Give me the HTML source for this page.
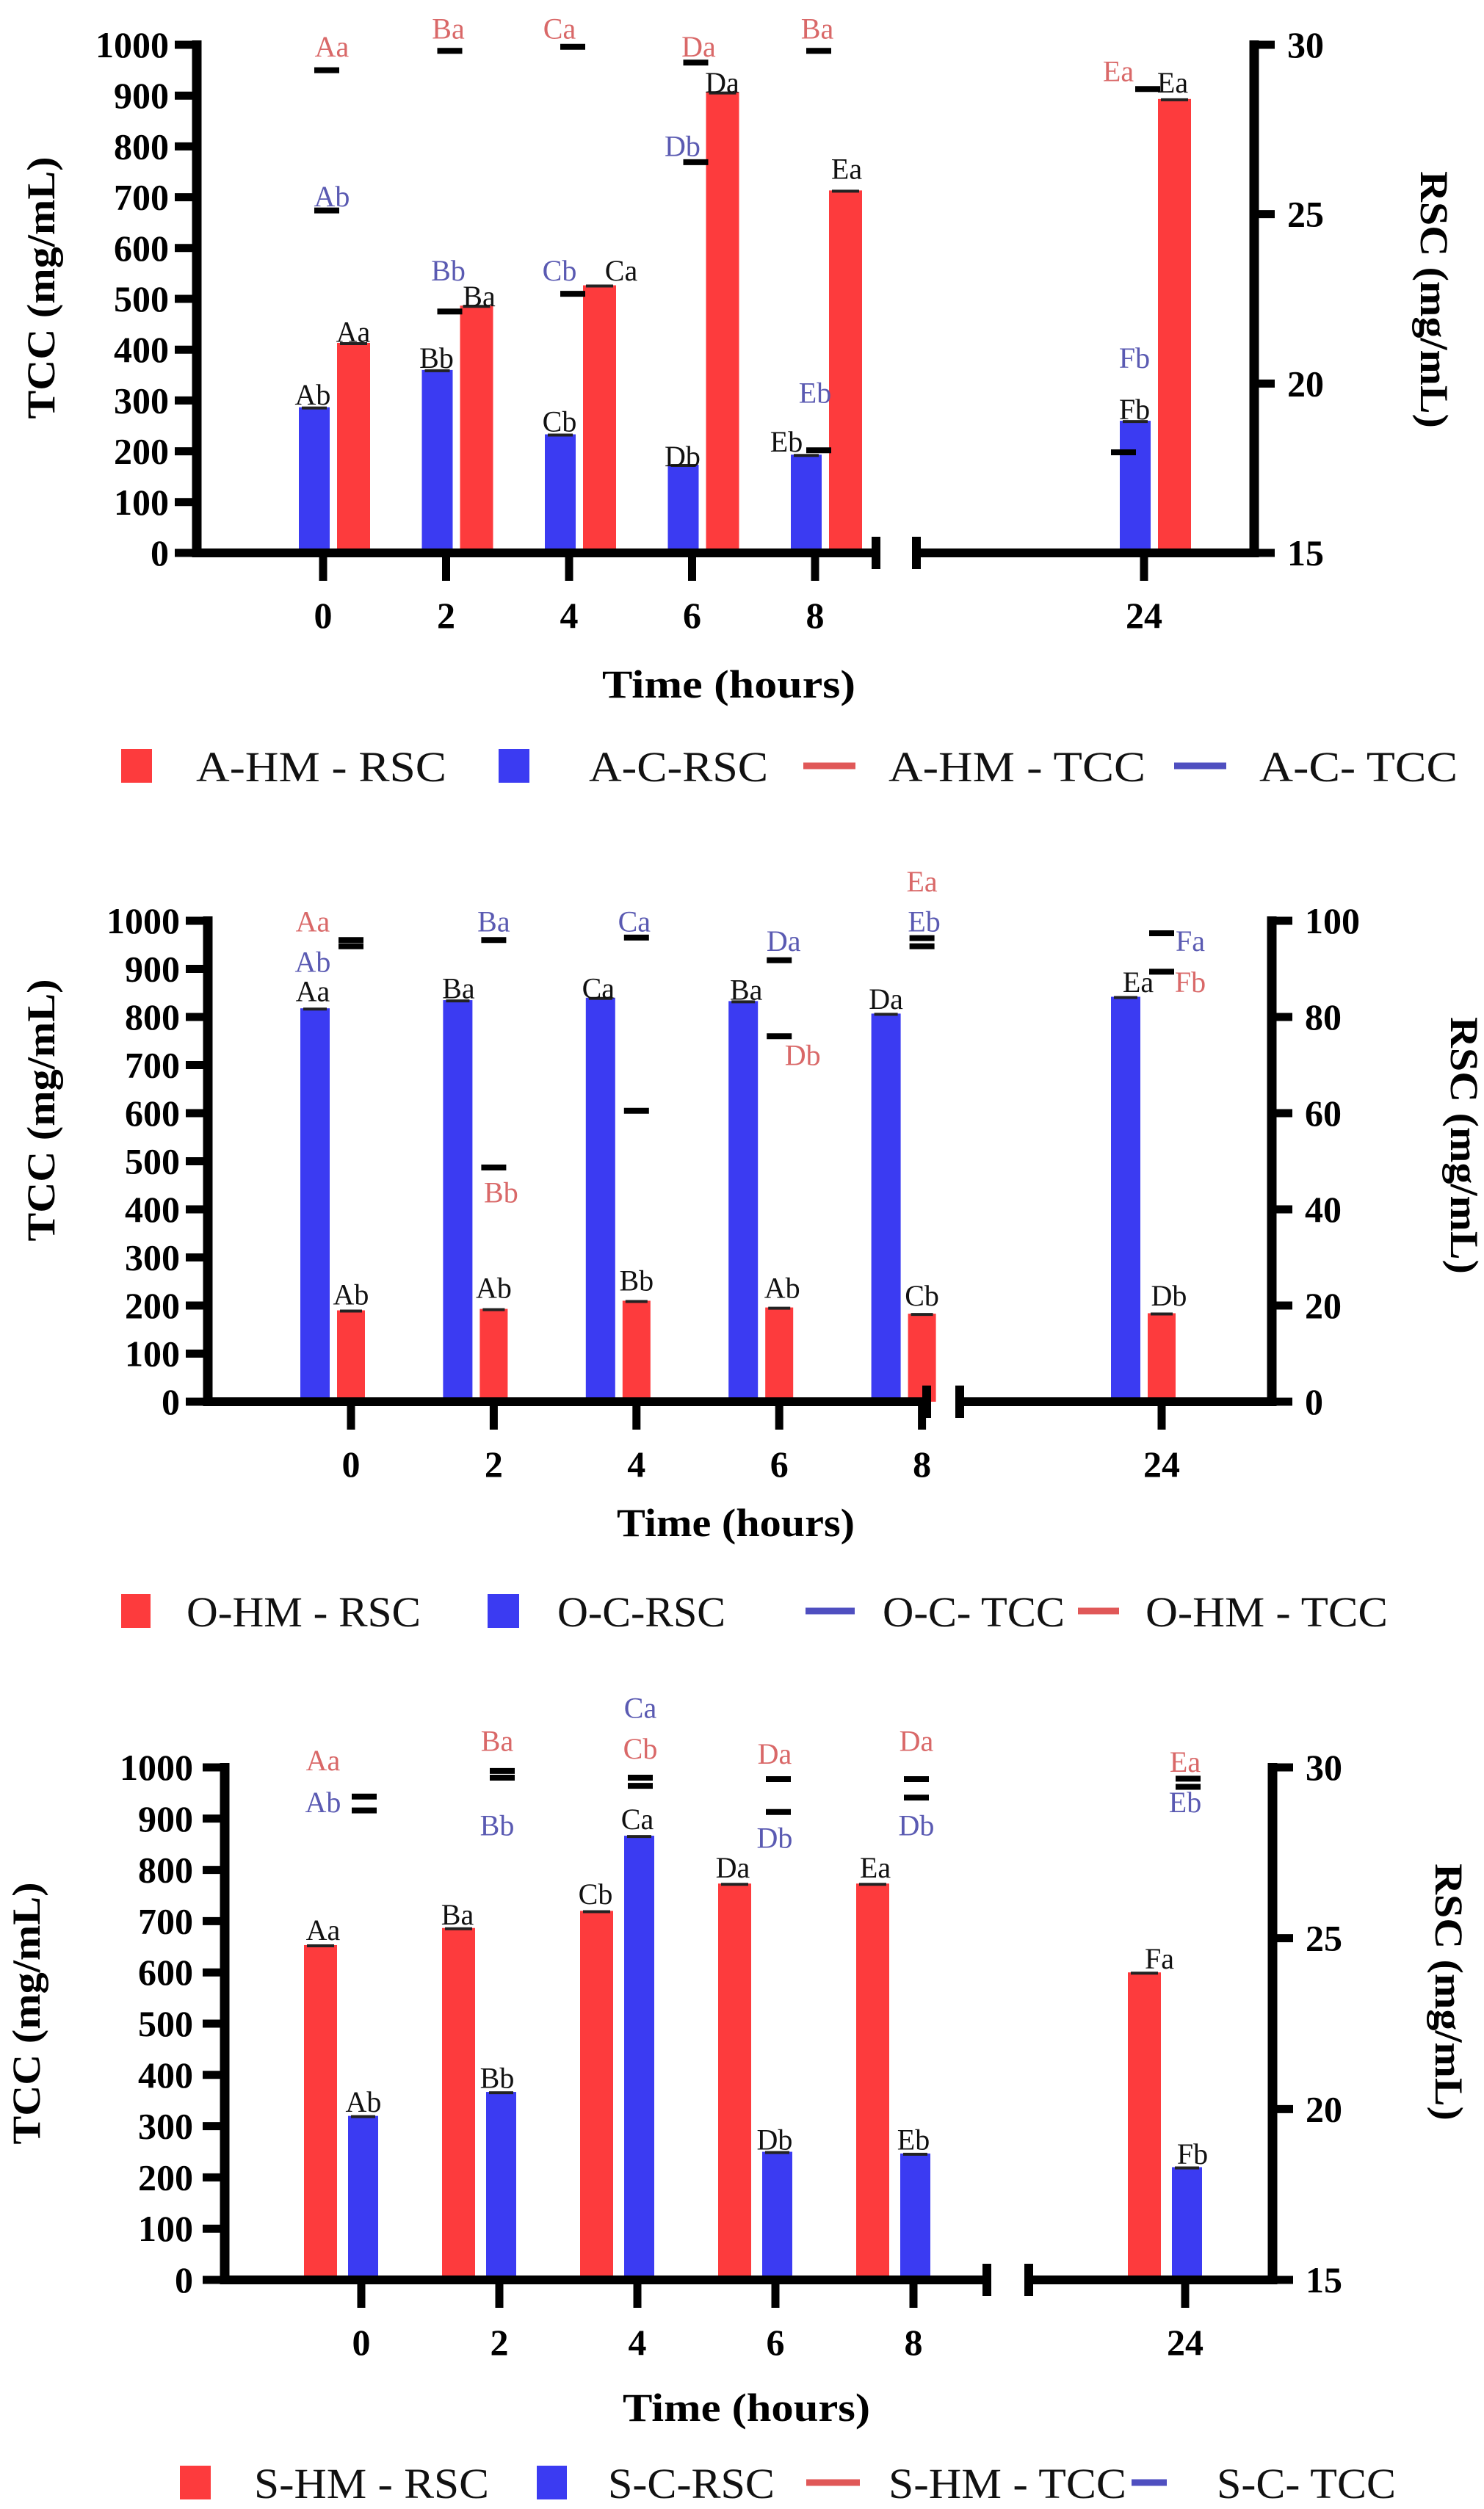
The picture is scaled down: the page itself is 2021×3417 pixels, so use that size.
<!DOCTYPE html>
<html><head><meta charset="utf-8"><style>
html,body{margin:0;padding:0;background:#fff;}
svg{display:block;}
text{font-family:"Liberation Serif",serif;}
</style></head><body>
<svg id="fig" width="2021" height="3417" viewBox="0 0 2021 3417" xmlns="http://www.w3.org/2000/svg"></svg>
<script>
// ---------- data ----------
const times = [0, 2, 4, 6, 8, 24];
const tccTicks = [0,100,200,300,400,500,600,700,800,900,1000];

// Panel A
const aHmRsc = [21.2, 22.3, 22.9, 28.6, 25.7, 28.4];
const aCRsc  = [19.3, 20.4, 18.5, 17.6, 17.9, 18.9];
const aHmTcc = [950, 988, 996, 965, 988, 913];
const aCTcc  = [674, 475, 510, 769, 202, 198];
const aRscTicks = [15, 20, 25, 30];
const aLabels = [
 ["Aa","r",0,12,996],["Ba","r",2,3,1031],["Ca","r",4,-13,1031],["Da","r",6,9,996],["Ba","r",8,3,1031],["Ea","r",24,-35,947],
 ["Ab","b",0,12,701],["Bb","b",2,3,555],["Cb","b",4,-13,555],["Db","b",6,-13,800],["Eb","b",8,0,314],["Fb","b",24,-13,383],
 ["Ab","k",0,-14,311],["Aa","k",0,41,434],["Bb","k",2,-13,383],["Ba","k",2,45,504],["Cb","k",4,-13,258],["Ca","k",4,71,555],
 ["Db","k",6,-13,189],["Da","k",6,41,925],["Eb","k",8,-39,218],["Ea","k",8,43,755],["Fb","k",24,-13,282],["Ea","k",24,39,925]
];
// Panel O
const oHmRsc = [19.0, 19.3, 21.0, 19.6, 18.3, 18.4];
const oCRsc  = [81.8, 83.5, 84.0, 83.3, 80.7, 84.2];
const oHmTcc = [947, 487, 605, 760, 964, 894];
const oCTcc  = [960, 960, 965, 918, 947, 974];
const oRscTicks = [0, 20, 40, 60, 80, 100];
const oLabels = [
 ["Aa","r",0,-52,998],["Ab","b",0,-52,914],["Aa","k",0,-52,853],["Ab","k",0,0,222],
 ["Ba","b",2,0,998],["Ba","k",2,-48,859],["Bb","r",2,10,434],["Ab","k",2,0,236],
 ["Ca","b",4,-3,998],["Ca","k",4,-52,859],["Bb","k",4,0,251],
 ["Da","b",6,6,957],["Ba","k",6,-45,856],["Db","r",6,32,720],["Ab","k",6,4,236],
 ["Ea","r",8,0,1081],["Eb","b",8,3,998],["Da","k",8,-49,837],["Cb","k",8,0,220],
 ["Fa","b",24,39,957],["Fb","r",24,39,872],["Ea","k",24,-32,872],["Db","k",24,10,220]
];
// Panel S
const sHmRsc = [24.8, 25.3, 25.8, 26.6, 26.6, 24.0];
const sCRsc  = [19.8, 20.5, 28.0, 18.75, 18.7, 18.3];
const sHmTcc = [943, 993, 980, 977, 977, 978];
const sCTcc  = [916, 980, 964, 913, 941, 962];
const sRscTicks = [15, 20, 25, 30];
const sLabels = [
 ["Aa","r",0,-52,1013],["Ab","b",0,-52,931],["Ba","r",2,-3,1051],["Bb","b",2,-3,886],
 ["Ca","b",4,4,1115],["Cb","r",4,4,1036],["Da","r",6,-1,1026],["Db","b",6,-1,862],
 ["Da","r",8,4,1051],["Db","b",8,4,886],["Ea","r",24,0,1010],["Eb","b",24,0,931],
 ["Aa","k",0,-52,682],["Ab","k",0,3,347],["Ba","k",2,-57,712],["Bb","k",2,-3,393],
 ["Cb","k",4,-57,752],["Ca","k",4,0,898],["Da","k",6,-58,804],["Db","k",6,-1,273],
 ["Ea","k",8,-52,804],["Eb","k",8,0,273],["Fa","k",24,-35,626],["Fb","k",24,10,245]
];

// ---------- drawing ----------
const NS = "http://www.w3.org/2000/svg";
const svg = document.getElementById("fig");
const RED = "#fd3b3d", BLUE = "#3b3bf2";
const LCOL = {r:"#d96868", b:"#5a5ab2", k:"#111"};
function mk(tag, attrs, parent, txt){
  const e = document.createElementNS(NS, tag);
  for (const k in attrs) e.setAttribute(k, attrs[k]);
  if (txt !== undefined) e.textContent = txt;
  (parent || svg).appendChild(e);
  return e;
}

function drawPanel(p){
  const g = mk("g", {});
  
  
  const yT = v => p.y0 - (v/1000)*(p.y0 - p.y1);
  const yR = v => p.y0 - (v - p.rMin)/(p.rMax - p.rMin)*(p.y0 - p.y1);
  const xS = t => t <= 8 ? p.x0 + t*p.k : p.x24;

  // bars
  times.forEach((t,i)=>{
    const tk = xS(t);
    [[p.hm, p.hmOff, p.hmW, RED, 'hm'], [p.c, p.cOff, p.cW, BLUE, 'c']].forEach(s=>{
      const top = yR(s[0][i]);
      const r = mk("rect", {x:tk+s[1], y:top, width:s[2], height:p.y0-top, fill:s[3]}, g);
      
      
      const cap = mk("line", {x1:tk+s[1]+4, x2:tk+s[1]+s[2]-4, y1:top+1, y2:top+1, stroke:"#222", "stroke-width":4}, g);
      
      
    });
    // TCC dashes
    [[p.hmT, 'hm'], [p.cT, 'c']].forEach(s=>{
      const dx = (p.dashDx[s[1]] && p.dashDx[s[1]][t] !== undefined) ? p.dashDx[s[1]][t] : p.dashOff;
      const yy = yT(s[0][i]);
      const d = mk("line", {x1:tk+dx-17, x2:tk+dx+17, y1:yy, y2:yy, stroke:"#000", "stroke-width":8}, g);
      
      
    });
  });

  // letter labels
  p.labels.forEach(l=>{
    const tx = mk("text", {x:xS(l[2])+l[3], y:yT(l[4])+13, "font-size":40, fill:LCOL[l[1]], "text-anchor":"middle"}, g, l[0]);
    
    
  });

  // left axis
  const la = mk("line", {x1:p.xL, x2:p.xL, y1:p.y1-6, y2:p.y0+6, stroke:"#000", "stroke-width":13}, g);
  
  
  tccTicks.forEach(v=>{
    mk("line", {x1:p.xL-30, x2:p.xL, y1:yT(v), y2:yT(v), stroke:"#000", "stroke-width":11}, g);
    const t = mk("text", {x:p.xL-p.lblGap, y:yT(v)+17, "font-size":50, "font-weight":"bold", "text-anchor":"end"}, g, String(v));
    
    
  });
  // right axis
  const ra = mk("line", {x1:p.xR, x2:p.xR, y1:p.y1-6, y2:p.y0+6, stroke:"#000", "stroke-width":13}, g);
  
  
  p.rTicks.forEach(v=>{
    mk("line", {x1:p.xR, x2:p.xR+28, y1:yR(v), y2:yR(v), stroke:"#000", "stroke-width":11}, g);
    const t = mk("text", {x:p.xR+45, y:yR(v)+17, "font-size":50, "font-weight":"bold"}, g, String(v));
    
    
  });
  // x axis with break
  const xa = mk("path", {d:`M${p.xL} ${p.y0}H${p.b1}M${p.b2} ${p.y0}H${p.xR}M${p.b1} ${p.y0-22}V${p.y0+22}M${p.b2} ${p.y0-22}V${p.y0+22}`, stroke:"#000", "stroke-width":12, fill:"none"}, g);
  
  
  times.forEach(t=>{
    mk("line", {x1:xS(t), x2:xS(t), y1:p.y0, y2:p.y0+38, stroke:"#000", "stroke-width":11}, g);
    const tl = mk("text", {x:xS(t), y:p.y0+102, "font-size":50, "font-weight":"bold", "text-anchor":"middle"}, g, String(t));
    
    
  });
  // titles
  const yt = mk("text", {x:0, y:0, "font-size":54, "font-weight":"bold", "text-anchor":"middle", textLength:357, lengthAdjust:"spacingAndGlyphs", transform:`translate(${p.ltx},${p.lty}) rotate(-90)`}, g, "TCC (mg/mL)");
  
  
  const rt = mk("text", {x:0, y:0, "font-size":54, "font-weight":"bold", "text-anchor":"middle", textLength:350, lengthAdjust:"spacingAndGlyphs", transform:`translate(${p.rtx},${p.rty}) rotate(90)`}, g, "RSC (mg/mL)");
  
  
  const xt = mk("text", {x:p.xtx, y:p.xty, "font-size":54, "font-weight":"bold", textLength:p.xtw, lengthAdjust:"spacingAndGlyphs"}, g, "Time (hours)");
  
  

  // legend
  const lg = mk("g", {}, g);
  
  
  p.legend.forEach(e=>{
    const it = mk("g", {}, lg);
    
    
    if (e.type === "sq") mk("rect", {x:e.sx, y:p.ly-23, width:e.sw, height:46, fill:e.col}, it);
    else mk("line", {x1:e.sx, x2:e.sx+e.sw, y1:p.ly, y2:p.ly, stroke:e.col, "stroke-width":9}, it);
    mk("text", {x:e.tx, y:p.ly+21, "font-family":"Liberation Sans, sans-serif", "font-size":58, textLength:e.tw, lengthAdjust:"spacingAndGlyphs", fill:"#111"}, it, e.text);
  });
}

drawPanel({name:"panel-a", xL:268, xR:1708, y0:753, y1:61, x0:440, k:83.75, x24:1558, b1:1193, b2:1248,
  rMin:15, rMax:30, rTicks:aRscTicks, hm:aHmRsc, c:aCRsc, hmT:aHmTcc, cT:aCTcc,
  hmOff:19, hmW:45, cOff:-33, cW:42, dashOff:5, dashDx:{c:{24:-28}}, labels:aLabels, lblGap:38,
  ltx:74, lty:392, rtx:1935, rty:408, xtx:820, xty:950, xtw:345, ly:1043,
  legend:[{type:"sq",col:RED,sx:165,sw:42,tx:267,tw:341,text:"A-HM - RSC"},
          {type:"sq",col:BLUE,sx:679,sw:42,tx:802,tw:244,text:"A-C-RSC"},
          {type:"ln",col:"#e05858",sx:1094,sw:71,tx:1210,tw:350,text:"A-HM - TCC"},
          {type:"ln",col:"#4f4fc0",sx:1599,sw:71,tx:1715,tw:270,text:"A-C- TCC"}]});

drawPanel({name:"panel-o", xL:283, xR:1732, y0:1909, y1:1254, x0:478, k:97.2, x24:1582, b1:1262, b2:1307,
  rMin:0, rMax:100, rTicks:oRscTicks, hm:oHmRsc, c:oCRsc, hmT:oHmTcc, cT:oCTcc,
  hmOff:-19, hmW:38, cOff:-69, cW:40, dashOff:0, dashDx:{}, labels:oLabels, lblGap:38,
  ltx:74, lty:1512, rtx:1976, rty:1560, xtx:840, xty:2092, xtw:324, ly:2194,
  legend:[{type:"sq",col:RED,sx:165,sw:40,tx:254,tw:319,text:"O-HM - RSC"},
          {type:"sq",col:BLUE,sx:664,sw:43,tx:759,tw:229,text:"O-C-RSC"},
          {type:"ln",col:"#4f4fc0",sx:1097,sw:67,tx:1202,tw:248,text:"O-C- TCC"},
          {type:"ln",col:"#e05858",sx:1468,sw:56,tx:1560,tw:330,text:"O-HM - TCC"}]});

drawPanel({name:"panel-s", xL:306, xR:1733, y0:3105, y1:2407, x0:492, k:94, x24:1614, b1:1344, b2:1401,
  rMin:15, rMax:30, rTicks:sRscTicks, hm:sHmRsc, c:sCRsc, hmT:sHmTcc, cT:sCTcc,
  hmOff:-78, hmW:45, cOff:-18, cW:41, dashOff:4, dashDx:{}, labels:sLabels, lblGap:43,
  ltx:54, lty:2742, rtx:1955, rty:2713, xtx:848, xty:3297, xtw:337, ly:3381,
  legend:[{type:"sq",col:RED,sx:245,sw:42,tx:346,tw:320,text:"S-HM - RSC"},
          {type:"sq",col:BLUE,sx:731,sw:41,tx:828,tw:227,text:"S-C-RSC"},
          {type:"ln",col:"#e05858",sx:1098,sw:73,tx:1210,tw:324,text:"S-HM - TCC"},
          {type:"ln",col:"#4f4fc0",sx:1541,sw:48,tx:1657,tw:244,text:"S-C- TCC"}]});
</script>
</body></html>
